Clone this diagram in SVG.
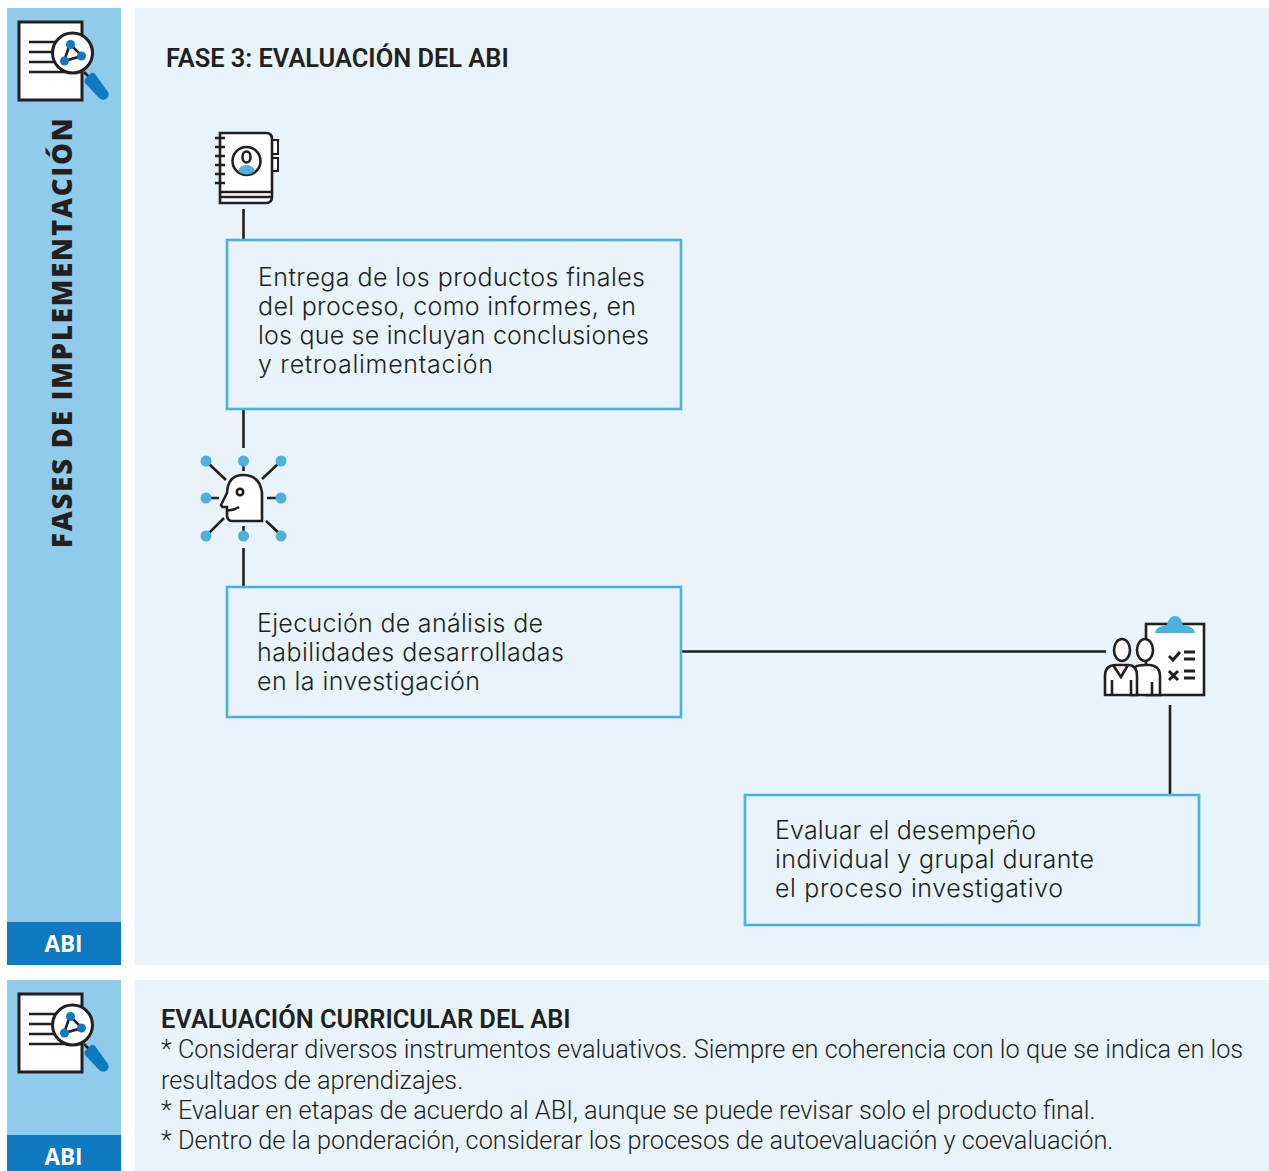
<svg xmlns="http://www.w3.org/2000/svg" width="1269" height="1171" viewBox="0 0 1269 1171">
<style>
.k{fill:none;stroke:#231f20;stroke-width:2.6}
.w{fill:#fff;stroke:#231f20;stroke-width:2.6}
.x{fill:none;stroke:#231f20;stroke-width:3}
.b{fill:#4db1de}
.d{fill:#0f79c1}
.box{fill:none;stroke:#4db1de;stroke-width:2.6}
.t{font-family:Inter,"Liberation Sans",sans-serif;font-weight:300;font-size:25px;fill:#231f20}
.h{font-family:Roboto,"Liberation Sans",sans-serif;font-weight:600;font-size:25.4px;fill:#231f20}
.v{font-family:"Open Sans","Liberation Sans",sans-serif;font-weight:800;font-size:27.500px;letter-spacing:1.85px;fill:#231f20}
.p{font-family:Roboto,"Liberation Sans",sans-serif;font-weight:300;font-size:25.3px;fill:#231f20}
.a{font-family:"Open Sans","Liberation Sans",sans-serif;font-weight:700;font-size:22.5px;fill:#fff;text-anchor:middle}
.c{fill:none;stroke:#231f20;stroke-width:2.6}
</style>
<defs>
<g id="doc">
<rect x="19" y="22" width="63" height="78" class="w" style="stroke-width:3"/>
<path d="M29 42H55M29 52H55M29 62H55M29 72H82" class="k"/>
<path d="M84 72L92 80" class="k"/>
<path d="M85 79L91 73Q93 72 95 74L108 92Q110 96 106 99Q102 101 99 98L85 83Q84 81 85 79Z" class="d"/>
<circle cx="72.500" cy="53" r="20" class="w" style="stroke-width:3"/>
<path d="M70 44L82 56L64 61Z" class="k"/>
<circle cx="70.500" cy="44.500" r="4.500" class="d"/><circle cx="81.500" cy="56" r="4.500" class="d"/><circle cx="64.500" cy="61" r="4.500" class="d"/>
</g>
</defs>
<rect id="side-top" x="7" y="8" width="114" height="957" fill="#91cbeb"/>
<rect id="abi-top" x="7" y="922" width="114" height="43" fill="#0f79c1"/>
<rect id="panel-top" x="135" y="8" width="1134" height="957" fill="#e8f3fa"/>
<rect id="side-bottom" x="7" y="980" width="114" height="191" fill="#91cbeb"/>
<rect id="abi-bottom" x="7" y="1135" width="114" height="36" fill="#0f79c1"/>
<rect id="panel-bottom" x="135" y="980" width="1134" height="191" fill="#e8f3fa"/>
<use href="#doc" id="icon-doc-top"/>
<use href="#doc" id="icon-doc-bottom" y="972"/>
<text class="v" transform="translate(72 548) rotate(-90)">FASES DE IMPLEMENTACIÓN</text>
<text class="a" x="63.500" y="951.500">ABI</text>
<text class="a" x="63.500" y="1164.500">ABI</text>
<text class="h" x="166" y="66.500">FASE 3: EVALUACIÓN DEL ABI</text>
<g id="connectors">
<path class="c" d="M243.500 209V240M243.500 409V448M243.500 548V586M681 651.500H1106M1170 705V795"/>
</g>
<g id="node-1"><rect class="box" x="227" y="240" width="454" height="169"/>
<text class="t" x="258" y="286" textLength="387">Entrega de los productos finales</text>
<text class="t" x="258" y="315" textLength="378">del proceso, como informes, en</text>
<text class="t" x="258" y="344" textLength="391">los que se incluyan conclusiones</text>
<text class="t" x="258" y="372.500" textLength="235">y retroalimentación</text></g>
<g id="node-2"><rect class="box" x="227" y="587" width="454" height="130"/>
<text class="t" x="257" y="632" textLength="286">Ejecución de análisis de</text>
<text class="t" x="257" y="661" textLength="307">habilidades desarrolladas</text>
<text class="t" x="257" y="690" textLength="223">en la investigación</text></g>
<g id="node-3"><rect class="box" x="745" y="795" width="454" height="130"/>
<text class="t" x="775" y="839" textLength="261">Evaluar el desempeño</text>
<text class="t" x="775" y="868" textLength="319">individual y grupal durante</text>
<text class="t" x="775" y="897" textLength="288">el proceso investigativo</text></g>
<g id="icon-notebook">
<path class="w" d="M270 140H278V154H270ZM270 158H278V171H270Z" style="stroke-width:2"/>
<path class="w" d="M220 133H266Q272 133 272 139V197Q272 203 266 203H220Z"/>
<path class="k" d="M220 192H272M220 197H272M215 138H225M215 147H225M215 156H225M215 165H225M215 174H225M215 183H225"/>
<circle cx="246.500" cy="161" r="14" class="w"/>
<path class="b" d="M238 171Q240 165 246.500 165Q253 165 255 171Q251 174.500 246.500 174.500Q242 174.500 238 171Z"/>
<ellipse cx="246.500" cy="157" rx="4" ry="5.500" class="k"/>
</g>
<g id="icon-head">
<path class="w" d="M262 521H232Q227 521 227 515V507H222.500L221 505L227 493Q228 475 243 475Q260 475 262 493Z"/>
<circle cx="240" cy="492" r="3.200" class="k"/>
<path class="k" d="M227 510Q233 511 239 507"/>
<path class="k" d="M243.500 466V471M243.500 526V531M219 498H211M267 498H277M226 480L209 464M262 479L279 463M224 518L209 533M266 521L279 533"/>
<g class="b"><circle cx="206" cy="461" r="5.500"/><circle cx="243.500" cy="461" r="5.500"/><circle cx="281" cy="461" r="5.500"/><circle cx="206" cy="498" r="5.500"/><circle cx="281" cy="498" r="5.500"/><circle cx="206" cy="536" r="5.500"/><circle cx="243.500" cy="536" r="5.500"/><circle cx="281" cy="536" r="5.500"/></g>
</g>
<g id="icon-team">
<rect x="1146" y="624" width="58" height="71" class="w"/>
<path class="b" d="M1155 633Q1156 626 1167 625Q1169 616 1175 616Q1181 616 1183 625Q1194 626 1195 633Z"/>
<path class="x" d="M1169 656L1173 660L1180 652M1184 652H1195M1184 659H1195M1169 671L1178 680M1178 671L1169 680M1184 671H1195M1184 678H1195"/>
<ellipse cx="1145" cy="650" rx="8" ry="11" class="w"/>
<path class="w" d="M1130 695V676Q1130 665 1145 665H1150Q1160 666 1160 676V695Z"/>
<path class="k" d="M1152 695V682"/>
<ellipse cx="1122" cy="650" rx="8" ry="11" class="w"/>
<path class="w" d="M1105 695V676Q1105 665 1116 665H1128Q1137 665 1137 676V695Z"/>
<path class="k" d="M1113 665L1121 677L1128 665M1112 695V680M1131 695V680"/>
</g>
<text class="h" x="161" y="1027.500">EVALUACIÓN CURRICULAR DEL ABI</text>
<text class="p"><tspan x="161" y="1058">* Considerar diversos instrumentos evaluativos. Siempre en coherencia con lo que se indica en los</tspan><tspan x="161" y="1088.500">resultados de aprendizajes.</tspan><tspan x="161" y="1119">* Evaluar en etapas de acuerdo al ABI, aunque se puede revisar solo el producto final.</tspan><tspan x="161" y="1149">* Dentro de la ponderación, considerar los procesos de autoevaluación y coevaluación.</tspan></text>
</svg>
